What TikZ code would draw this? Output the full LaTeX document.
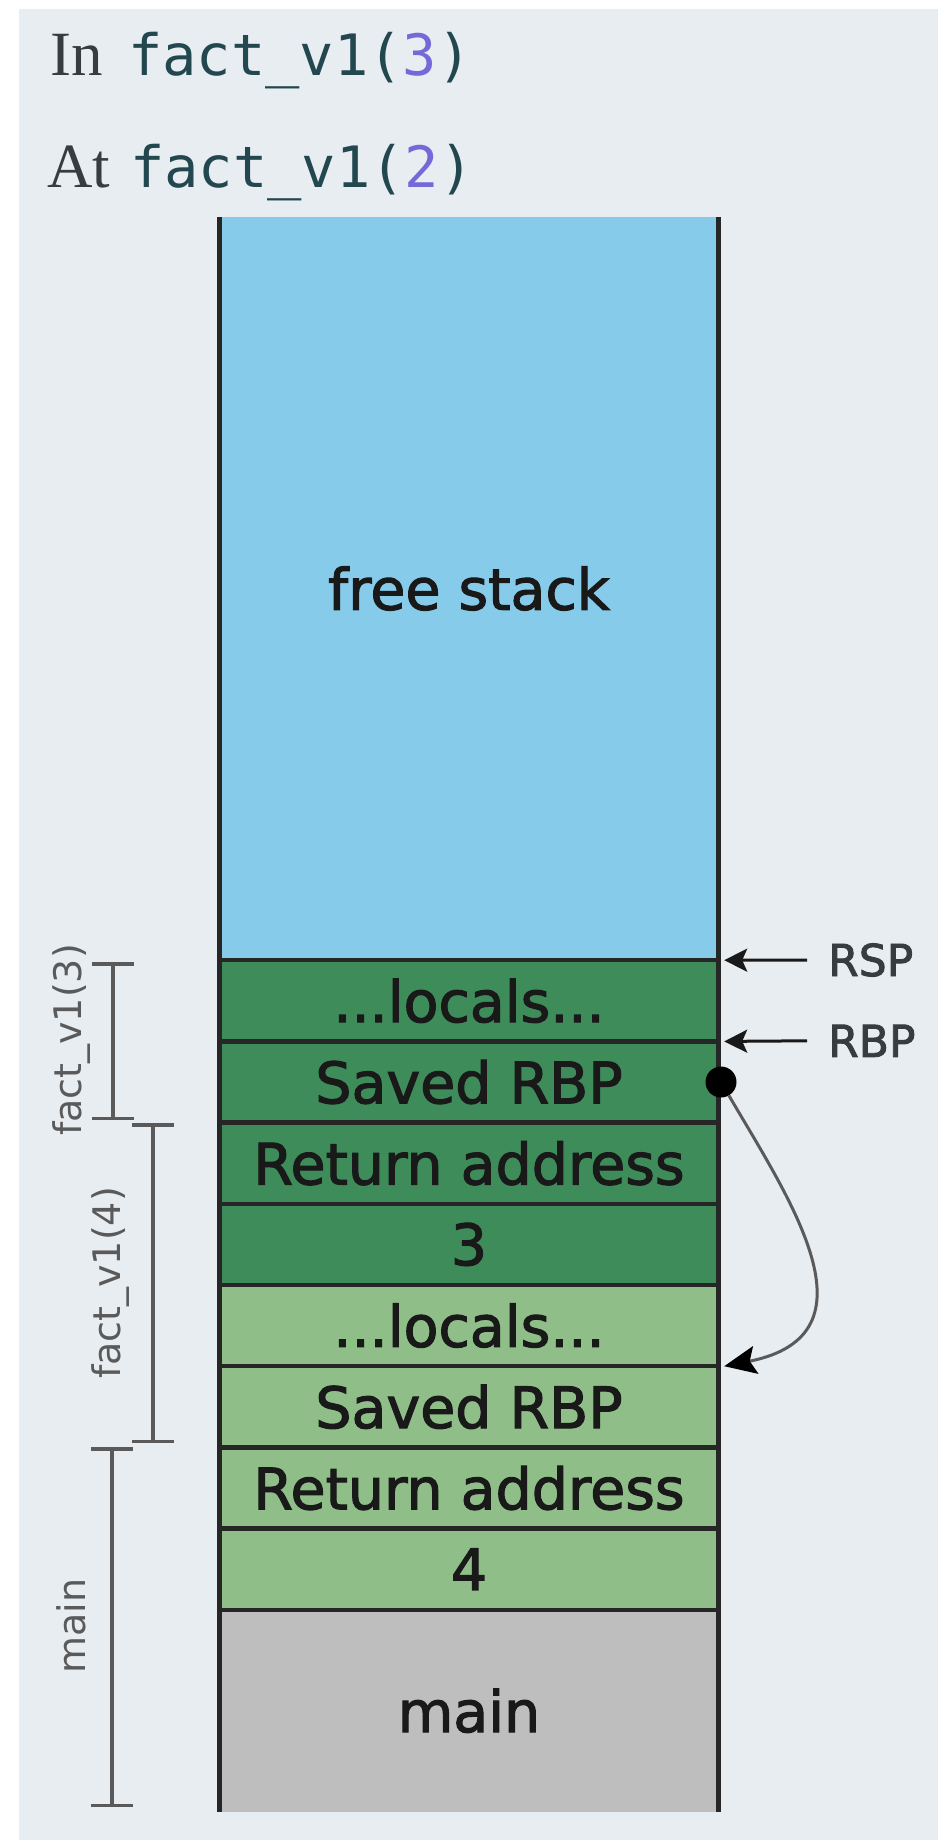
\documentclass[tikz,border=0pt]{standalone}
\usepackage{fontspec}
\setmainfont{DejaVu Sans}
\newfontfamily\cellfont{DejaVu Sans}[FakeBold=2]
\newfontfamily\headserif{Liberation Serif}
\newfontfamily\codefont{DejaVu Sans Mono}
\usetikzlibrary{arrows.meta,positioning}

\definecolor{pagebg}{HTML}{E8EDF2}
\definecolor{freeblue}{HTML}{86CCEA}
\definecolor{darkgreen}{HTML}{3E8C5A}
\definecolor{lightgreen}{HTML}{8FBE89}
\definecolor{maingray}{HTML}{BEBEBE}
\definecolor{headgray}{HTML}{383C3E}
\definecolor{codeteal}{HTML}{22474F}
\definecolor{argpurple}{HTML}{7668D8}
\definecolor{brkgray}{HTML}{5A5A5A}

\tikzset{
  cell/.style={minimum width=498pt,minimum height=80.8pt,inner sep=0pt,
    text=black!90,font=\cellfont\fontsize{57}{60}\selectfont},
  sepline/.style={line width=4.5pt,black!85},
  sideline/.style={line width=5pt,black!85},
  ptr/.style={line width=3pt,black!90,-{Stealth[length=23pt,width=23pt,inset=5pt]}},
  reglbl/.style={anchor=west,inner sep=0pt,text=headgray,font=\cellfont\fontsize{44}{48}\selectfont},
  framelbl/.style={rotate=90,inner sep=0pt,text=brkgray,font=\fontsize{38}{40}\selectfont},
  brk/.style={line width=3.5pt,brkgray,{Bar[width=42pt]}-{Bar[width=42pt]}}
}

\begin{document}
\begin{tikzpicture}[x=1pt,y=-1pt]
  \useasboundingbox (0,0) rectangle (938,1840);
  % Background
  \fill[pagebg] (19,9) rectangle (938,1840);

  % Heading
  \node[anchor=base west,inner sep=0pt,text=headgray,font=\headserif\fontsize{63}{70}\selectfont] (inword) at (50,75) {In};
  \node[anchor=base west,inner sep=0pt,text=codeteal,font=\codefont\fontsize{57}{60}\selectfont] (incall) at (128,75) {fact\_v1(\textcolor{argpurple}{3})};
  \node[anchor=base west,inner sep=0pt,text=headgray,font=\headserif\fontsize{63}{70}\selectfont] (atword) at (47,187) {At};
  \node[anchor=base west,inner sep=0pt,text=codeteal,font=\codefont\fontsize{57}{60}\selectfont] (atcall) at (130,187) {fact\_v1(\textcolor{argpurple}{2})};

  % Stack cells
  \node[cell,fill=freeblue,minimum height=743pt] (free) at (469,588.5) {free stack};
  \node[cell,fill=darkgreen,below=0pt of free] (loc3) {...locals...};
  \node[cell,fill=darkgreen,below=0pt of loc3] (sav3) {Saved RBP};
  \node[cell,fill=darkgreen,below=0pt of sav3] (ret3) {Return address};
  \node[cell,fill=darkgreen,below=0pt of ret3] (arg3) {3};
  \node[cell,fill=lightgreen,below=0pt of arg3] (loc4) {...locals...};
  \node[cell,fill=lightgreen,below=0pt of loc4] (sav4) {Saved RBP};
  \node[cell,fill=lightgreen,below=0pt of sav4] (ret4) {Return address};
  \node[cell,fill=lightgreen,below=0pt of ret4] (arg4) {4};
  \node[cell,fill=maingray,minimum height=201.6pt,below=0pt of arg4] (mainblk) {main};

  % Cell borders
  \foreach \c in {loc3,sav3,ret3,arg3,loc4,sav4,ret4,arg4,mainblk}
    \draw[sepline] (\c.north west) -- (\c.north east);
  \draw[sideline] (free.north west) -- (mainblk.south west);
  \draw[sideline] (free.north east) -- (mainblk.south east);

  % Registers
  \node[reglbl] (rsp) at (828,960) {RSP};
  \node[reglbl] (rbp) at (828,1040.8) {RBP};
  \draw[ptr] ([xshift=-21pt]rsp.west) -- ([xshift=6pt]loc3.north east);
  \draw[ptr] ([xshift=-21pt]rbp.west) -- ([xshift=6pt]sav3.north east);

  % Saved RBP link
  \node[circle,fill=black,minimum size=31pt,inner sep=0pt] (dot) at (721,1082) {};
  \draw[line width=3pt,brkgray,-{Stealth[length=32pt,width=28pt,inset=6pt,black]}]
    (dot) .. controls (790,1200) and (882,1335) .. ([xshift=6pt]sav4.north east);

  % Frame brackets
  \coordinate (f3top) at (113,962);
  \coordinate (f3bot) at (113,1120);
  \coordinate (f4top) at (153,1123);
  \coordinate (f4bot) at (153,1443);
  \coordinate (mtop) at (112,1447);
  \coordinate (mbot) at (112,1807);
  \draw[brk] (f3top) -- (f3bot);
  \draw[brk] (f4top) -- (f4bot);
  \draw[brk] (mtop) -- (mbot);
  \node[framelbl] (lblf3) at (72,1040) {fact\_v1(3)};
  \node[framelbl] (lblf4) at (111,1283) {fact\_v1(4)};
  \node[framelbl] (lblmain) at (71,1626) {main};
\end{tikzpicture}
\end{document}
